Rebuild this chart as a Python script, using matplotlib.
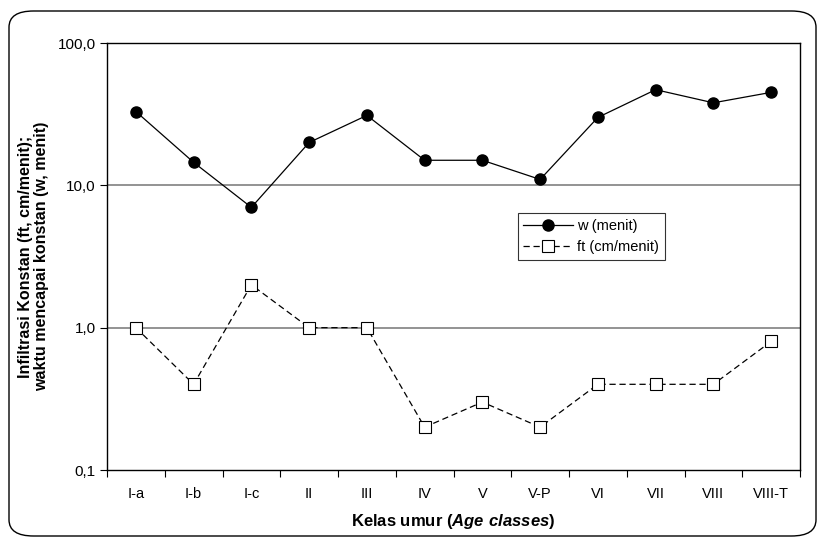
import matplotlib.pyplot as plt
import matplotlib.ticker as ticker
from matplotlib.patches import FancyBboxPatch

plt.rcParams["font.family"] = ["Liberation Sans", "DejaVu Sans"]
plt.rcParams["mathtext.fontset"] = "custom"
plt.rcParams["mathtext.rm"] = "Liberation Sans"
plt.rcParams["mathtext.bf"] = "Liberation Sans:bold"
plt.rcParams["mathtext.bfit"] = "Liberation Sans:italic:bold"

# Data
age_classes = ["I-a", "I-b", "I-c", "II", "III", "IV", "V", "V-P", "VI", "VII", "VIII", "VIII-T"]
w_menit = [33, 14.5, 7, 20, 31, 15, 15, 11, 30, 47, 38, 45]
ft_cm_menit = [1.0, 0.4, 2.0, 1.0, 1.0, 0.2, 0.3, 0.2, 0.4, 0.4, 0.4, 0.8]
y_ticks = [0.1, 1, 10, 100]
y_tick_labels = ["0,1", "1,0", "10,0", "100,0"]

fig = plt.figure(figsize=(8.19, 5.41), dpi=100)
ax = fig.add_axes([107 / 819, 71 / 541, 693 / 819, 427 / 541])

# Rounded border around the whole chart
border = FancyBboxPatch((9 / 819, 5 / 541), 807 / 819, 525 / 541,
                        boxstyle="round,pad=0,rounding_size=0.03",
                        transform=fig.transFigure, fill=False,
                        edgecolor="black", linewidth=1.0)
fig.patches.append(border)

x = range(len(age_classes))
ax.plot(x, w_menit, color="black", linewidth=0.9, marker="o", markersize=8,
        markerfacecolor="black", markeredgecolor="black", label="w (menit)", zorder=3)
ax.plot(x, ft_cm_menit, color="black", linewidth=0.9, linestyle=(0, (5, 3)),
        marker="s", markersize=8, markerfacecolor="white", markeredgecolor="black",
        markeredgewidth=0.8, label="ft (cm/menit)", zorder=3)

ax.set_yscale("log")
ax.set_ylim(0.1, 100)
ax.set_xlim(-0.5, len(age_classes) - 0.5)

ax.yaxis.set_major_locator(ticker.FixedLocator(y_ticks))
ax.yaxis.set_major_formatter(ticker.FixedFormatter(y_tick_labels))
ax.yaxis.set_minor_locator(ticker.NullLocator())

ax.set_xticks(list(x))
ax.set_xticklabels(age_classes)
ax.set_xticks([i - 0.5 for i in range(len(age_classes) + 1)], minor=True)
ax.tick_params(axis="x", which="major", length=0, pad=12, labelsize=10.5)
ax.tick_params(axis="x", which="minor", length=5, direction="out", width=0.8)
ax.tick_params(axis="y", which="major", length=5, direction="out", width=0.8, labelsize=11, pad=3)

for val in [1, 10]:
    ax.axhline(val, color="#808080", linewidth=1.2, zorder=1)

for spine in ax.spines.values():
    spine.set_linewidth(1.0)
    spine.set_color("black")

ax.set_xlabel(r"Kelas umur ($\mathbfit{Age\ classes}$)", fontsize=12,
              fontweight="bold", labelpad=8)
ax.set_ylabel("Infiltrasi Konstan (ft, cm/menit);\nwaktu mencapai konstan (w, menit)",
              fontsize=11.5, fontweight="bold", labelpad=6, linespacing=1.15)

leg = ax.legend(loc="upper left", bbox_to_anchor=(0.582, 0.618), prop={"size": 10.5},
                frameon=True, fancybox=False, edgecolor="black", handlelength=3.4,
                handletextpad=0.3, borderpad=0.4, labelspacing=0.45)
leg.get_frame().set_linewidth(0.8)

fig.savefig("out.png", dpi=100)
